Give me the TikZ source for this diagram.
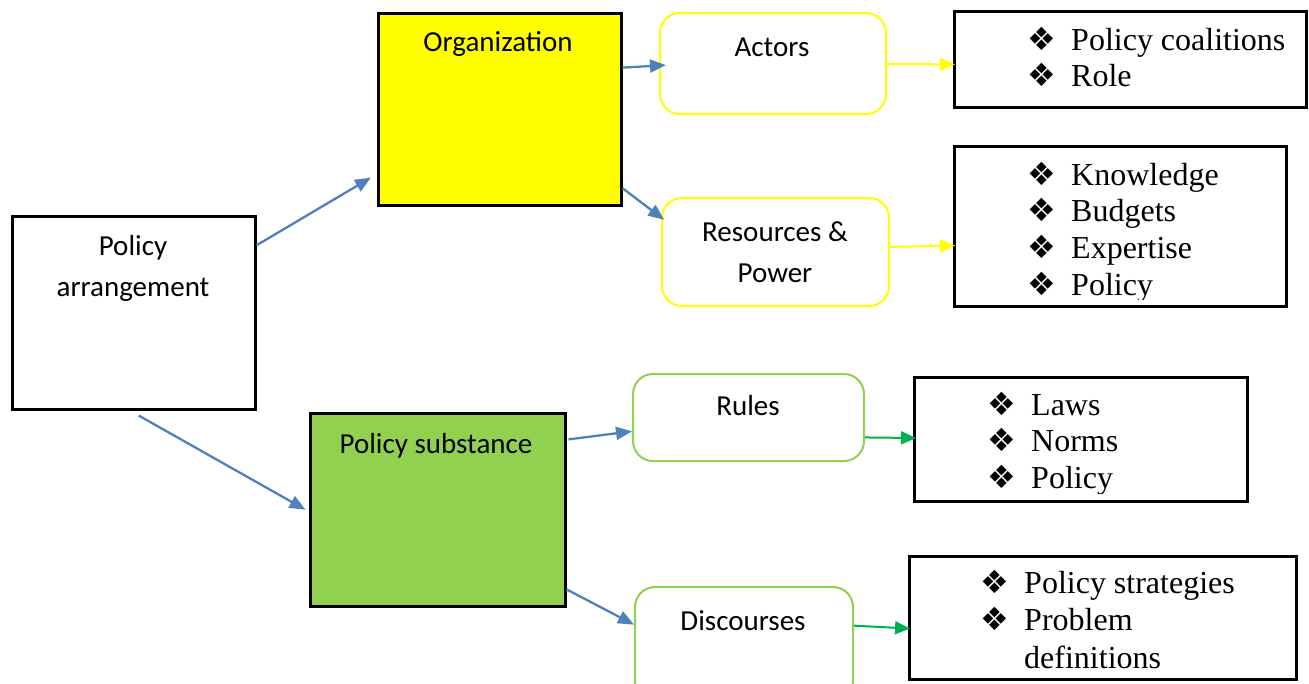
\documentclass[tikz,border=0pt]{standalone}
\usepackage{fontspec}
\setmainfont{Carlito}
\newfontfamily\tnr{Liberation Serif}
\newfontfamily\djv{DejaVu Sans}
\usetikzlibrary{arrows.meta,calc}
\definecolor{arrblue}{HTML}{4F81BD}
\definecolor{ylw}{HTML}{FFFF00}
\definecolor{lgreen}{HTML}{92D050}
\definecolor{dgreen}{HTML}{00B050}
\newcommand\bul{\makebox[44pt][l]{\djv\fontsize{32}{32}\selectfont ❖}}
\begin{document}
\begin{tikzpicture}[x=1pt,y=-1pt,
 sqbox/.style={draw=black,line width=2.5pt,inner sep=0pt,anchor=north west},
 rbox/.style={line width=2pt,rounded corners=20pt,fill=white,inner sep=0pt,anchor=north west},
 lbl/.style={font=\fontsize{29}{41}\selectfont,inner sep=0pt,anchor=base},
 lst/.style={font=\tnr\fontsize{32}{36.7}\selectfont,inner sep=0pt,anchor=base west},
 barr/.style={arrblue,line width=2.3pt,-{Triangle[length=16pt,width=13pt]}},
 yarr/.style={ylw,line width=2pt,-{Triangle[length=15pt,width=13pt]}},
 garr/.style={dgreen,line width=2pt,-{Triangle[length=15pt,width=13pt]}}]
\useasboundingbox (0,0) rectangle (1309,683);
\clip (0,0) rectangle (1309,683);
\fill[white] (0,0) rectangle (1309,683);

% main boxes
\node[sqbox,fill=white,minimum width=243pt,minimum height=193pt] (pa) at (11,215) {};
\node[sqbox,fill=ylw,minimum width=243pt,minimum height=192pt] (org) at (377,12) {};
\node[sqbox,fill=lgreen,minimum width=255pt,minimum height=193pt] (ps) at (309,412) {};

% rounded boxes
\node[rbox,draw=ylw,minimum width=226pt,minimum height=101pt] (act) at (659,12) {};
\node[rbox,draw=ylw,minimum width=227pt,minimum height=108pt] (res) at (661,197) {};
\node[rbox,draw=lgreen,minimum width=231pt,minimum height=87pt] (rul) at (632,373) {};
\node[rbox,draw=lgreen,minimum width=218pt,minimum height=114pt] (dis) at (634,586) {};

% list boxes
\node[sqbox,fill=white,minimum width=352pt,minimum height=96pt] (b1) at (953,10) {};
\node[sqbox,fill=white,minimum width=332pt,minimum height=160pt] (b2) at (953,145) {};
\node[sqbox,fill=white,minimum width=333pt,minimum height=124pt] (b3) at (913,376) {};
\node[sqbox,fill=white,minimum width=387pt,minimum height=123pt] (b4) at (908,555) {};

% labels
\node[lbl] (pat) at (133,255) {\begin{tabular}[t]{@{}c@{}}Policy\\arrangement\end{tabular}};
\node[lbl] (orgt) at (498,51) {Organization};
\node[lbl] (pst) at (436,453) {Policy substance};
\node[lbl] (actt) at (772,56) {Actors};
\node[lbl] (rest) at (775,241) {\begin{tabular}[t]{@{}c@{}}Resources \&\\Power\end{tabular}};
\node[lbl] (rult) at (748,415) {Rules};
\node[lbl] (dist) at (743,630) {Discourses};

% lists
\node[lst] (l1) at (1027,50) {\begin{tabular}[t]{@{}l@{}l@{}}\bul&Policy coalitions\\ \bul&Role\end{tabular}};
\begin{scope}
\clip ($(b2.north west)+(1.25,1.25)$) rectangle ($(b2.south east)+(-1.25,-8)$);
\node[lst] (l2) at (1027,185) {\begin{tabular}[t]{@{}l@{}l@{}}\bul&Knowledge\\ \bul&Budgets\\ \bul&Expertise\\ \bul&Policy\end{tabular}};
\end{scope}
\begin{scope}
\clip ($(b3.north west)+(1.25,1.25)$) rectangle ($(b3.south east)+(-1.25,-9)$);
\node[lst] (l3) at (987,415) {\begin{tabular}[t]{@{}l@{}l@{}}\bul&Laws\\ \bul&Norms\\ \bul&Policy\end{tabular}};
\end{scope}
\node[lst,font=\tnr\fontsize{32}{37.5}\selectfont] (l4) at (980,593) {\begin{tabular}[t]{@{}l@{}l@{}}\bul&Policy strategies\\ \bul&Problem\\ &definitions\end{tabular}};

% connectors
\draw[barr,shorten >=7pt] ($(pa.north east)!0.155!(pa.south east)$) -- ($(org.north west)!0.833!(org.south west)$);
\draw[barr,shorten >=4pt] ($(pa.south west)!0.52!(pa.south east)+(0,5)$) -- ($(ps.north west)!0.51!(ps.south west)$);
\draw[barr,shorten >=-7pt] ($(org.north east)!0.286!(org.south east)$) -- ($(act.north west)!0.52!(act.south west)$);
\draw[barr,shorten >=-4pt] ($(org.north east)!0.906!(org.south east)$) -- ($(res.north west)!0.185!(res.south west)$);
\draw[barr] ($(ps.north east)!0.14!(ps.south east)+(2,0)$) -- ($(rul.north west)!0.655!(rul.south west)$);
\draw[barr] ($(ps.north east)!0.907!(ps.south east)$) -- ($(dis.north west)!0.333!(dis.south west)$);
\draw[yarr,shorten >=-2pt] ($(act.north east)!0.505!(act.south east)$) -- ($(b1.north west)!0.552!(b1.south west)$);
\draw[yarr,shorten >=-2pt] ($(res.north east)!0.454!(res.south east)$) -- ($(b2.north west)!0.619!(b2.south west)$);
\draw[garr,shorten >=-3pt] ($(rul.north east)!0.724!(rul.south east)$) -- ($(b3.north west)!0.49!(b3.south west)$);
\draw[garr,shorten >=-2pt] ($(dis.north east)!0.342!(dis.south east)$) -- ($(b4.north west)!0.585!(b4.south west)$);
\end{tikzpicture}
\end{document}
